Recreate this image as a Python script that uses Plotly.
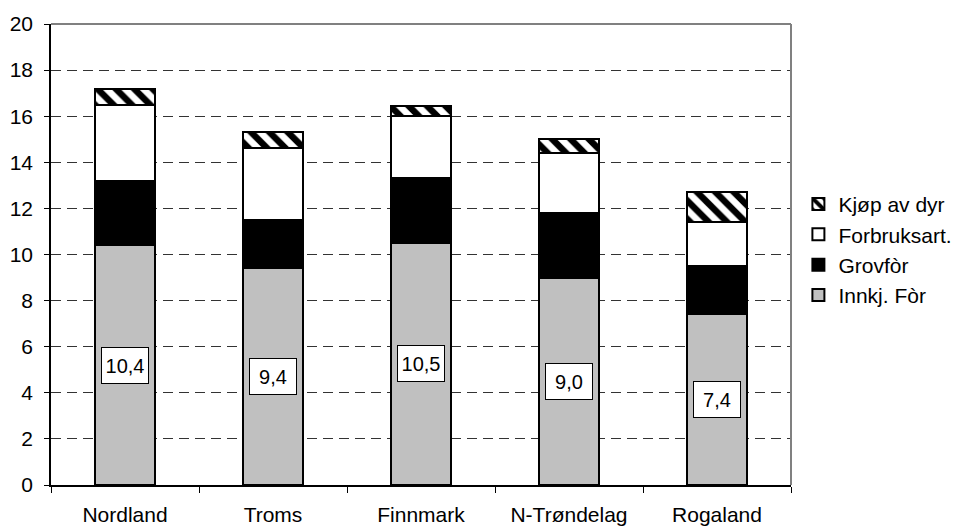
import plotly.graph_objects as go

categories = ["Nordland", "Troms", "Finnmark", "N-Trøndelag", "Rogaland"]
innkj_for = [10.4, 9.4, 10.5, 9.0, 7.4]
grovfor = [2.8, 2.1, 2.8, 2.8, 2.1]
forbruksart = [3.3, 3.1, 2.7, 2.6, 1.9]
kjop_av_dyr = [0.7, 0.7, 0.45, 0.6, 1.3]
y_ticks = [0, 2, 4, 6, 8, 10, 12, 14, 16, 18, 20]

FONT = "Liberation Sans, Arial, sans-serif"
line = dict(color="black", width=2)

fig = go.Figure()
fig.add_trace(go.Bar(name="Innkj. Fòr", x=categories, y=innkj_for,
                     marker=dict(color="#C0C0C0", line=line)))
fig.add_trace(go.Bar(name="Grovfòr", x=categories, y=grovfor,
                     marker=dict(color="black", line=line)))
fig.add_trace(go.Bar(name="Forbruksart.", x=categories, y=forbruksart,
                     marker=dict(color="white", line=line)))
fig.add_trace(go.Bar(name="Kjøp av dyr", x=categories, y=kjop_av_dyr,
                     marker=dict(color="white", line=line,
                                 pattern=dict(shape="\\", fgcolor="black", bgcolor="white",
                                              fgopacity=1, size=13, solidity=0.5,
                                              fillmode="overlay"))))

for c, v in zip(categories, innkj_for):
    fig.add_annotation(x=c, y=v / 2, text=f"{v:.1f}".replace(".", ","),
                       showarrow=False, bgcolor="white", bordercolor="black",
                       borderwidth=1, borderpad=3, width=40, height=29,
                       font=dict(family=FONT, size=20, color="black"))

# plot area border (top and right, gray)
fig.add_shape(type="line", xref="x domain", yref="y domain", x0=0, x1=1, y0=1, y1=1,
              line=dict(color="#808080", width=2), layer="above")
fig.add_shape(type="line", xref="x domain", yref="y domain", x0=1, x1=1, y0=0, y1=1,
              line=dict(color="#808080", width=2), layer="above")

# page body has an 8px default margin, so the figure is sized/offset to compensate
fig.update_layout(
    width=951, height=519,
    barmode="stack", bargap=0.6,
    paper_bgcolor="white", plot_bgcolor="white",
    margin=dict(l=43, r=168, t=16, b=42, autoexpand=False),
    font=dict(family=FONT, size=21, color="black"),
    showlegend=True,
    legend=dict(traceorder="reversed", x=1.01, xanchor="left", y=0.51, yanchor="middle",
                font=dict(family=FONT, size=21), bgcolor="rgba(0,0,0,0)",
                itemwidth=30, tracegroupgap=0),
    xaxis=dict(type="category", showline=True, linecolor="black", linewidth=1.5,
               ticks="outside", tickson="boundaries", ticklen=6, tickcolor="black",
               showgrid=False, ticklabelstandoff=10, automargin=False),
    yaxis=dict(range=[0, 20], tickvals=y_ticks, showline=True, linecolor="black",
               linewidth=1.5, ticks="outside", ticklen=5, tickcolor="black",
               showgrid=True, gridcolor="#333333", gridwidth=1, griddash="10px,6px",
               zeroline=False, ticklabelstandoff=7, automargin=False),
)

fig.write_html("out.html")
